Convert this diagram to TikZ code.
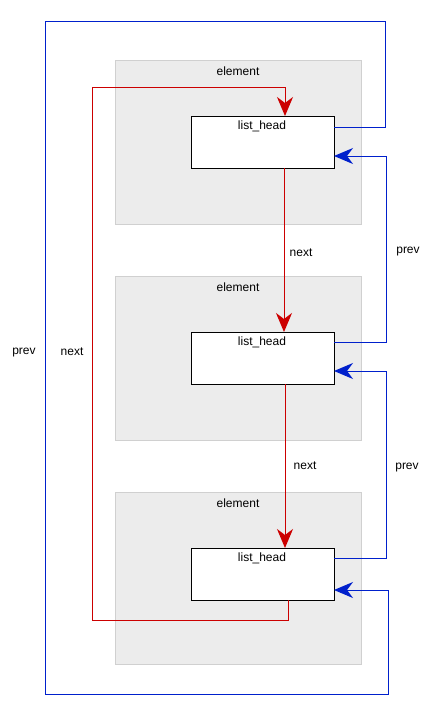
\documentclass[tikz,border=0pt]{standalone}
\usepackage{fontspec}
\setmainfont{Liberation Sans}
\usetikzlibrary{arrows.meta}
\definecolor{lred}{RGB}{204,0,0}
\definecolor{lblue}{RGB}{0,32,204}
\definecolor{elfill}{RGB}{236,236,236}
\definecolor{elborder}{RGB}{208,208,208}
\tikzset{
  elbox/.style={fill=elfill,draw=elborder,line width=1pt},
  headbox/.style={fill=white,draw=black,line width=1pt},
  lbl/.style={font=\fontsize{12}{14}\selectfont,inner sep=0pt},
  vee/.style={-{Stealth[length=19pt,width=16pt,inset=6pt]}},
  nextl/.style={draw=lred,line width=1pt,vee,fill=none},
  prevl/.style={draw=lblue,line width=1pt,vee,fill=none},
}
\begin{document}
\begin{tikzpicture}[x=1pt,y=-1pt]
\useasboundingbox (0,0) rectangle (430,716);
% element containers
\foreach \i/\t/\b in {1/60/224,2/276/440,3/492/664}{
  \draw[elbox] (115,\t) rectangle (361,\b);
  \node[lbl] (el\i) at (238,\t+11) {element};
}
% list_head boxes
\foreach \i/\t in {1/116,2/332,3/548}{
  \node[headbox,minimum width=143pt,minimum height=52pt,anchor=north west,inner sep=0pt] (h\i) at (191,\t) {};
  \node[lbl] (t\i) at (262,\t+10) {list\_head};
}
% coordinates
\coordinate (h1out) at (334,127);
\coordinate (h1in) at (334,156);
\coordinate (h2out) at (334,342);
\coordinate (h2in) at (334,371);
\coordinate (h3out) at (334,558);
\coordinate (h3in) at (334,590);
% next arrows
\draw[nextl] (284,168) -- (284,332);
\draw[nextl] (285,384) -- (285,548);
\draw[nextl] (288,600) -- (288,620) -- (92,620) -- (92,87) -- (285,87) -- (285,116);
% prev arrows
\draw[prevl] (h2out) -- (386,342) -- (386,156) -- (h1in);
\draw[prevl] (h3out) -- (386,558) -- (386,371) -- (h2in);
\draw[prevl] (h1out) -- (385,127) -- (385,21) -- (45,21) -- (45,694) -- (388,694) -- (388,590) -- (h3in);
% labels
\node[lbl] (n1) at (301,253) {next};
\node[lbl] (n2) at (305,466) {next};
\node[lbl] (p1) at (408,252) {prev};
\node[lbl] (p2) at (407,468) {prev};
\node[lbl] (p0) at (24,353) {prev};
\node[lbl] (n0) at (72,352) {next};
\end{tikzpicture}
\end{document}
